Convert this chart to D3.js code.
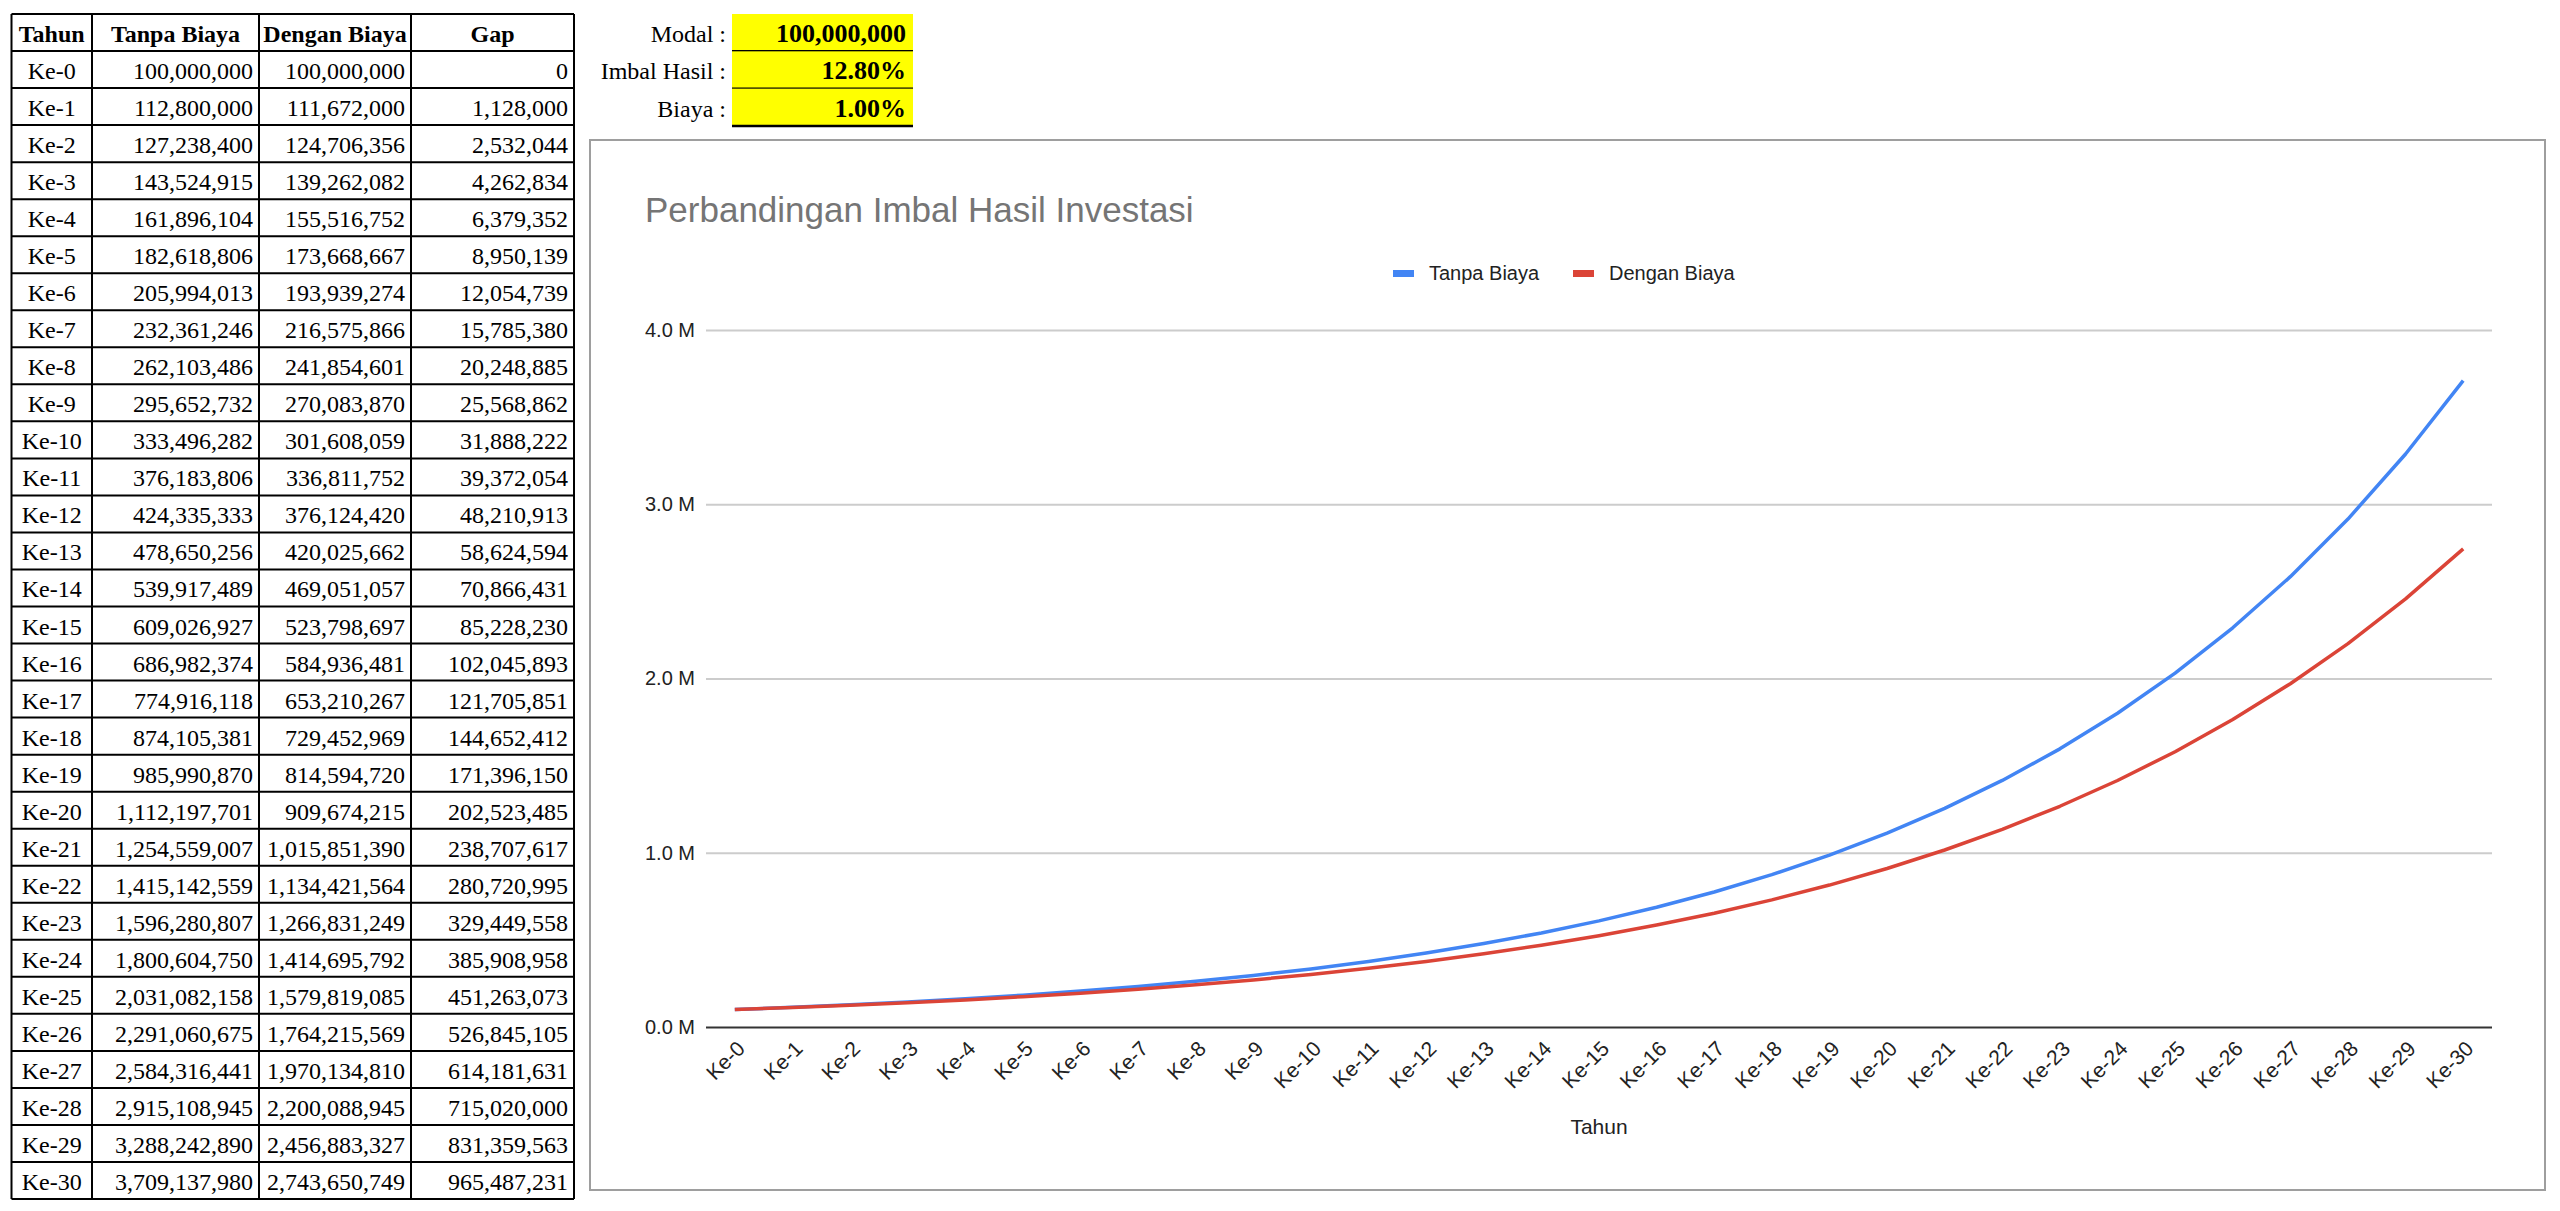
<!DOCTYPE html>
<html>
<head>
<meta charset="utf-8">
<script src="https://cdn.jsdelivr.net/npm/d3@7"></script>
<style>
    body { margin: 0; background: #fff; }
    svg { display: block; }
</style>
</head>
<body>
<div id="sheet"></div>
<script>
// data
const tahun = ["Ke-0", "Ke-1", "Ke-2", "Ke-3", "Ke-4", "Ke-5", "Ke-6", "Ke-7", "Ke-8", "Ke-9",
    "Ke-10", "Ke-11", "Ke-12", "Ke-13", "Ke-14", "Ke-15", "Ke-16", "Ke-17", "Ke-18", "Ke-19",
    "Ke-20", "Ke-21", "Ke-22", "Ke-23", "Ke-24", "Ke-25", "Ke-26", "Ke-27", "Ke-28", "Ke-29", "Ke-30"];
const tanpaBiaya = [100000000, 112800000, 127238400, 143524915, 161896104, 182618806, 205994013,
    232361246, 262103486, 295652732, 333496282, 376183806, 424335333, 478650256, 539917489,
    609026927, 686982374, 774916118, 874105381, 985990870, 1112197701, 1254559007, 1415142559,
    1596280807, 1800604750, 2031082158, 2291060675, 2584316441, 2915108945, 3288242890, 3709137980];
const denganBiaya = [100000000, 111672000, 124706356, 139262082, 155516752, 173668667, 193939274,
    216575866, 241854601, 270083870, 301608059, 336811752, 376124420, 420025662, 469051057,
    523798697, 584936481, 653210267, 729452969, 814594720, 909674215, 1015851390, 1134421564,
    1266831249, 1414695792, 1579819085, 1764215569, 1970134810, 2200088945, 2456883327, 2743650749];
const gap = [0, 1128000, 2532044, 4262834, 6379352, 8950139, 12054739, 15785380, 20248885,
    25568862, 31888222, 39372054, 48210913, 58624594, 70866431, 85228230, 102045893, 121705851,
    144652412, 171396150, 202523485, 238707617, 280720995, 329449558, 385908958, 451263073,
    526845105, 614181631, 715020000, 831359563, 965487231];
const tableHeaders = ["Tahun", "Tanpa Biaya", "Dengan Biaya", "Gap"];
const inputLabels = ["Modal :", "Imbal Hasil :", "Biaya :"];
const inputValues = ["100,000,000", "12.80%", "1.00%"];
const yTicks = [0, 1e9, 2e9, 3e9, 4e9];
const seriesNames = ["Tanpa Biaya", "Dengan Biaya"];
const seriesColors = ["#4285f4", "#db4437"];

const SERIF = "'Liberation Serif', 'Times New Roman', serif";
const SANS = "'Liberation Sans', Arial, sans-serif";

const svg = d3.select("#sheet").append("svg")
    .attr("width", 2560)
    .attr("height", 1211)
    .attr("viewBox", [0, 0, 2560, 1211]);

// ---- table on the left
const colEdges = [11.5, 92, 259, 411, 574];
const rowScale = d3.scaleBand(d3.range(tahun.length + 1), [14, 1199]);
const fmt = d3.format(",");

const table = svg.append("g").attr("font-family", SERIF).attr("font-size", 24).attr("fill", "#000");

// header
tableHeaders.forEach((h, c) => {
    table.append("text")
        .attr("x", (colEdges[c] + colEdges[c + 1]) / 2)
        .attr("y", rowScale(0) + 28)
        .attr("text-anchor", "middle")
        .attr("font-weight", "bold")
        .text(h);
});

// body rows
tahun.forEach((t, i) => {
    const y = rowScale(i + 1) + 28;
    table.append("text")
        .attr("x", (colEdges[0] + colEdges[1]) / 2)
        .attr("y", y)
        .attr("text-anchor", "middle")
        .text(t);
    [tanpaBiaya[i], denganBiaya[i], gap[i]].forEach((v, c) => {
        table.append("text")
            .attr("x", colEdges[c + 2] - 6)
            .attr("y", y)
            .attr("text-anchor", "end")
            .text(fmt(v));
    });
});

// grid lines of the table
const tableBottom = rowScale.range()[1];
d3.range(tahun.length + 2).forEach(r => {
    const y = r <= tahun.length ? rowScale(r) : tableBottom;
    table.append("line")
        .attr("x1", colEdges[0]).attr("x2", colEdges[colEdges.length - 1])
        .attr("y1", y).attr("y2", y)
        .attr("stroke", "#000").attr("stroke-width", 2);
});
colEdges.forEach(x => {
    table.append("line")
        .attr("x1", x).attr("x2", x)
        .attr("y1", rowScale(0)).attr("y2", tableBottom)
        .attr("stroke", "#000").attr("stroke-width", 2);
});

// ---- input cells (yellow)
const inputRow = d3.scaleBand(d3.range(inputLabels.length), [14, 126]);
const inputs = svg.append("g").attr("font-family", SERIF).attr("font-size", 24);
inputLabels.forEach((lab, i) => {
    const y0 = inputRow(i);
    inputs.append("rect")
        .attr("x", 732).attr("y", y0)
        .attr("width", 181).attr("height", inputRow.bandwidth())
        .attr("fill", "#ffff00");
    inputs.append("line")
        .attr("x1", 732).attr("x2", 913)
        .attr("y1", y0 + inputRow.bandwidth()).attr("y2", y0 + inputRow.bandwidth())
        .attr("stroke", "#000").attr("stroke-width", 2.5);
    inputs.append("text")
        .attr("x", 726).attr("y", y0 + 28)
        .attr("text-anchor", "end")
        .text(lab);
    inputs.append("text")
        .attr("x", 906).attr("y", y0 + 28)
        .attr("text-anchor", "end")
        .attr("font-weight", "bold")
        .attr("font-size", 26)
        .text(inputValues[i]);
});

// ---- chart
const box = { left: 590, top: 140, right: 2545, bottom: 1190 };
const plot = { left: 706, right: 2492, top: 330, bottom: 1027 };

svg.append("rect")
    .attr("x", box.left).attr("y", box.top)
    .attr("width", box.right - box.left).attr("height", box.bottom - box.top)
    .attr("fill", "#fff")
    .attr("stroke", "#9e9e9e").attr("stroke-width", 2);

const chart = svg.append("g").attr("font-family", SANS);

chart.append("text")
    .attr("x", 645).attr("y", 222)
    .attr("font-size", 35)
    .attr("fill", "#757575")
    .text("Perbandingan Imbal Hasil Investasi");

// legend
const legendX = [1393, 1573];
seriesNames.forEach((name, i) => {
    chart.append("rect")
        .attr("x", legendX[i]).attr("y", 270)
        .attr("width", 21).attr("height", 7)
        .attr("fill", seriesColors[i]);
    chart.append("text")
        .attr("x", legendX[i] + 36).attr("y", 280)
        .attr("font-size", 20)
        .attr("fill", "#222")
        .text(name);
});

const xScale = d3.scalePoint(tahun, [plot.left, plot.right]).padding(0.5);
const yScale = d3.scaleLinear([0, 4e9], [plot.bottom, plot.top]);

// y axis with gridlines
const yAxis = chart.append("g")
    .attr("transform", `translate(${plot.left},0)`)
    .call(d3.axisLeft(yScale)
        .tickValues(yTicks)
        .tickSize(-(plot.right - plot.left))
        .tickPadding(11)
        .tickFormat(d => `${(d / 1e9).toFixed(1)} M`));
yAxis.select(".domain").remove();
yAxis.selectAll(".tick line")
    .attr("stroke", d => d === 0 ? "#333" : "#cccccc")
    .attr("stroke-width", 2);
yAxis.selectAll(".tick text")
    .attr("font-family", SANS)
    .attr("font-size", 20)
    .attr("fill", "#222");

// x axis labels, rotated
const xAxis = chart.append("g")
    .attr("transform", `translate(0,${plot.bottom})`)
    .call(d3.axisBottom(xScale).tickSize(0).tickPadding(0));
xAxis.select(".domain").remove();
xAxis.selectAll(".tick text")
    .attr("font-family", SANS)
    .attr("font-size", 21)
    .attr("fill", "#222")
    .attr("text-anchor", "end")
    .attr("dy", 0)
    .attr("y", 0)
    .attr("transform", "translate(11,23) rotate(-45)");

chart.append("text")
    .attr("x", (plot.left + plot.right) / 2).attr("y", 1134)
    .attr("text-anchor", "middle")
    .attr("font-size", 21)
    .attr("fill", "#222")
    .text("Tahun");

// lines
[tanpaBiaya, denganBiaya].forEach((values, i) => {
    chart.append("path")
        .datum(values)
        .attr("fill", "none")
        .attr("stroke", seriesColors[i])
        .attr("stroke-width", 3.5)
        .attr("stroke-linejoin", "round")
        .attr("d", d3.line()
            .x((_, j) => xScale(tahun[j]))
            .y(d => yScale(d)));
});
</script>
</body>
</html>
